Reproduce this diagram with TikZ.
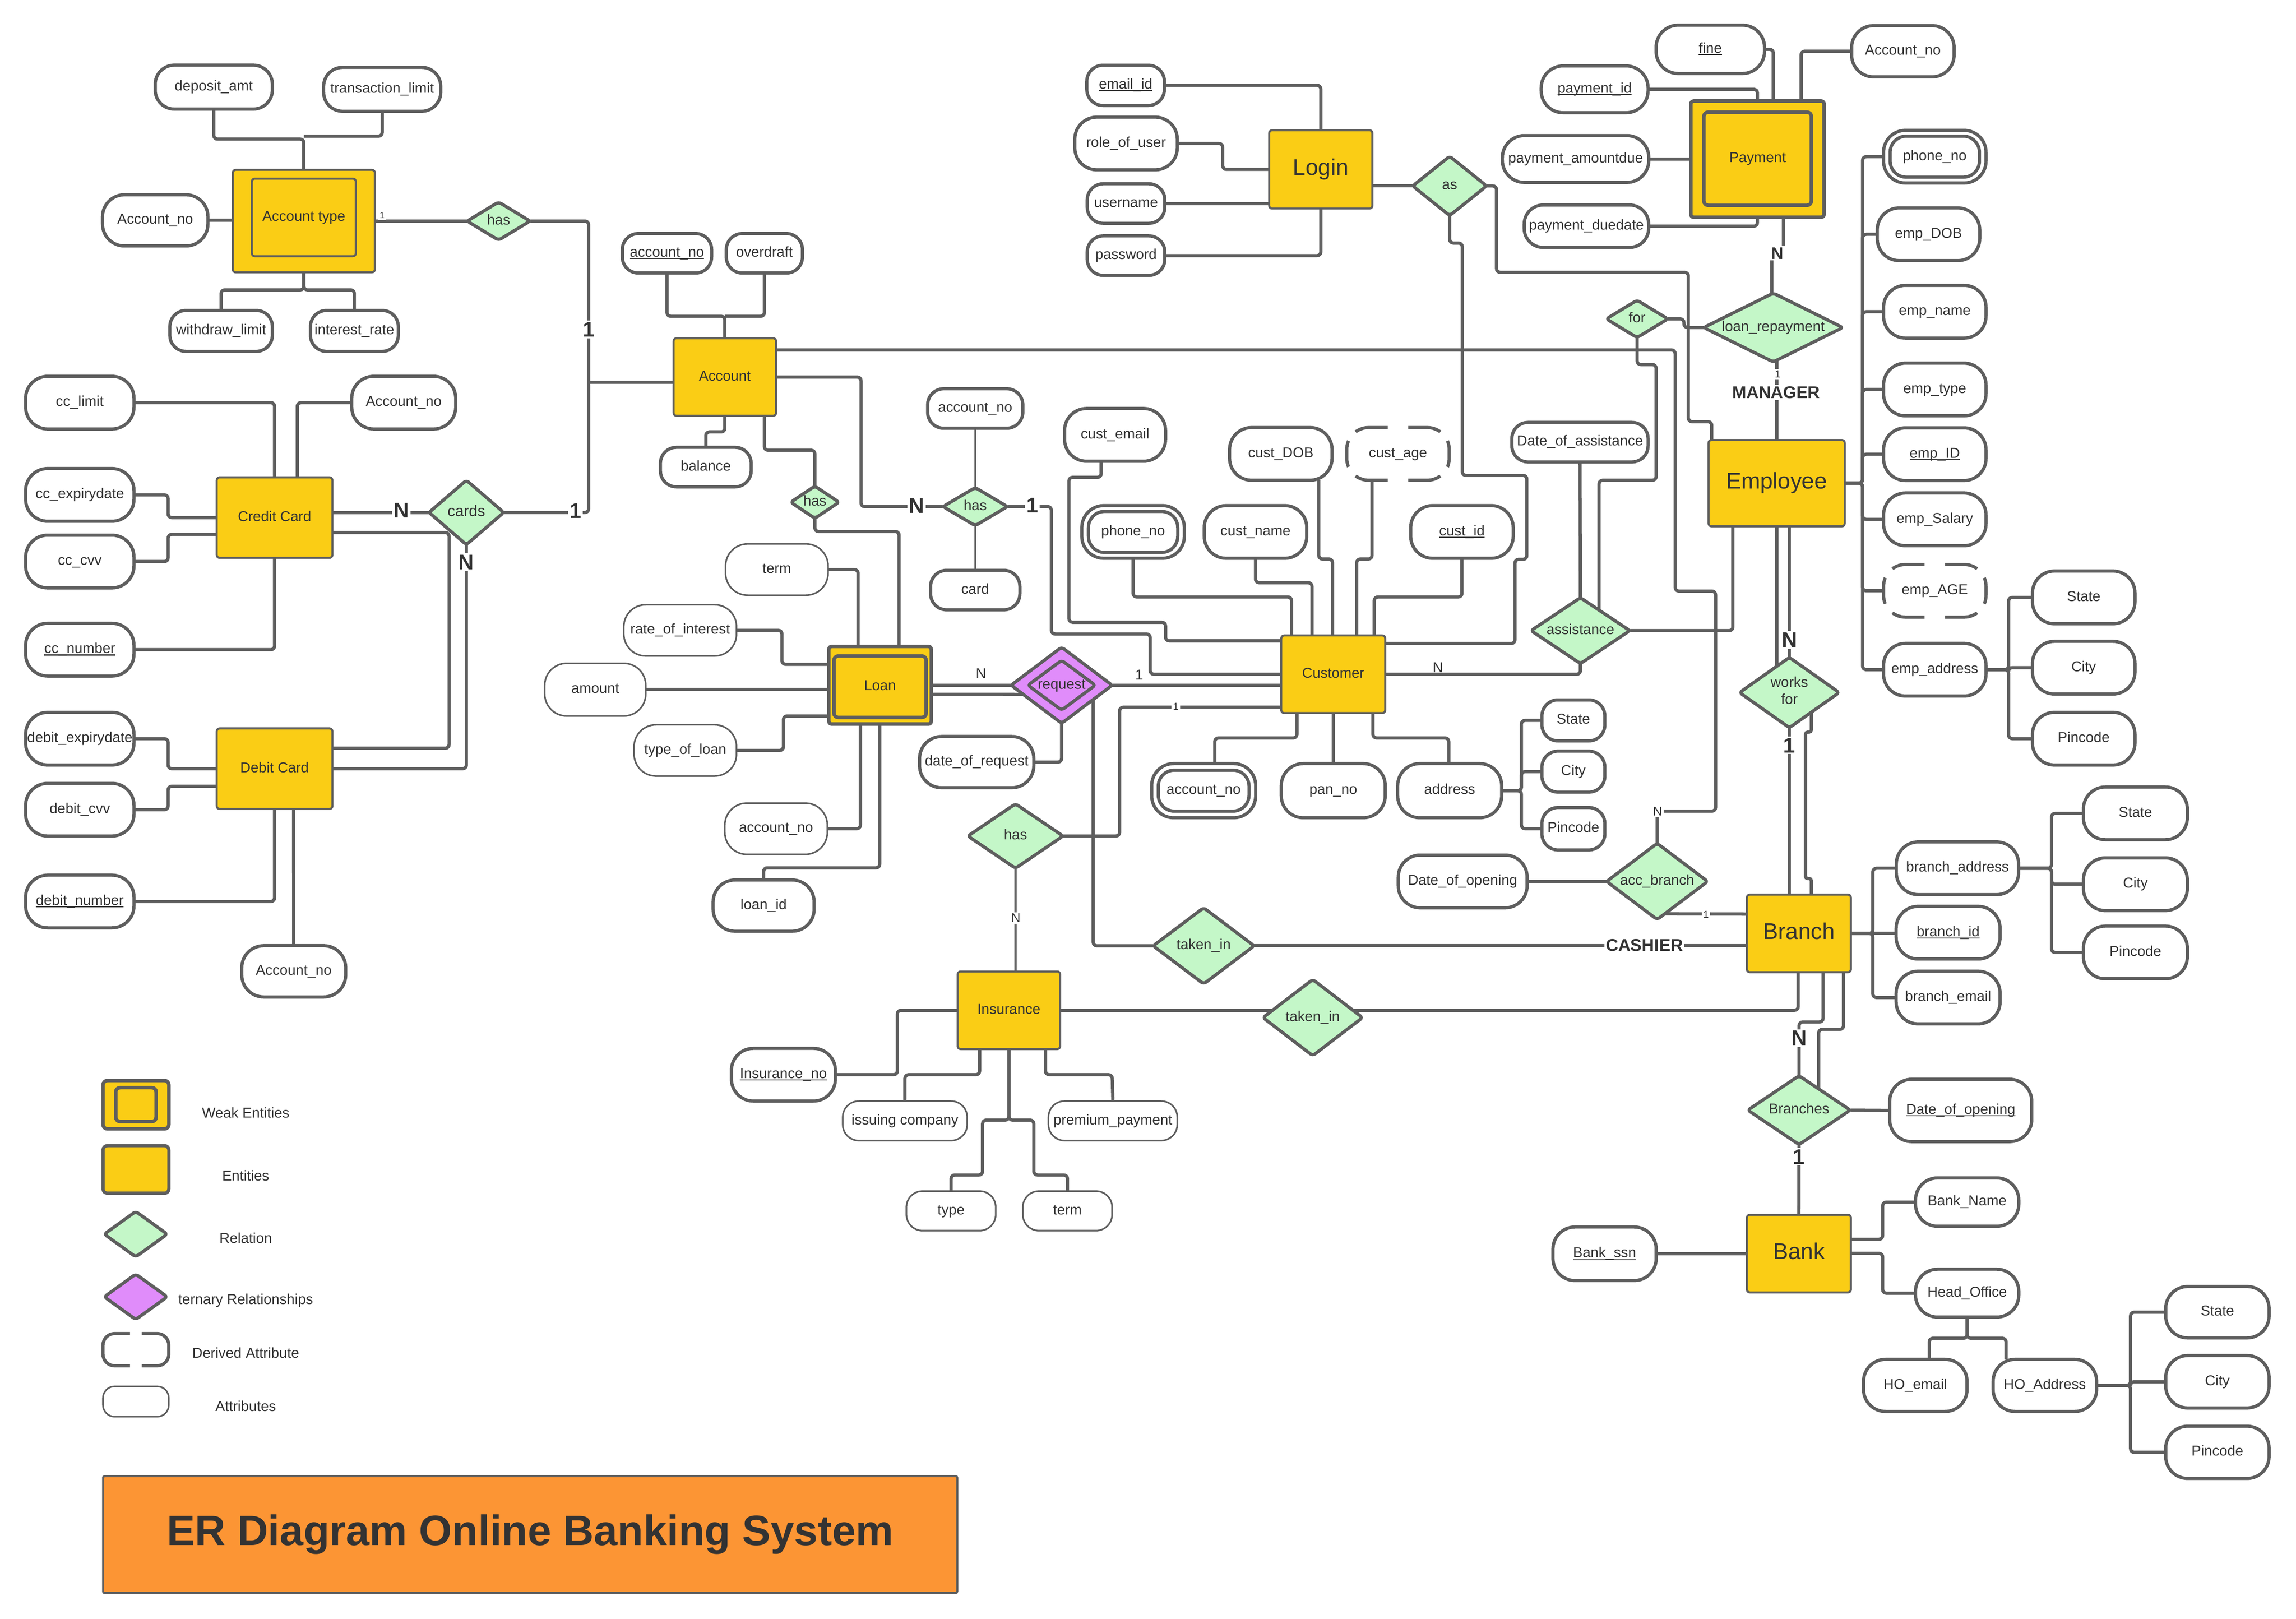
\documentclass[tikz,border=0pt]{standalone}
\usepackage{fontspec}
\setmainfont{Liberation Sans}
\usetikzlibrary{shapes.geometric,calc}
\definecolor{lc}{RGB}{94,94,94}
\definecolor{tc}{RGB}{51,51,51}
\definecolor{ey}{RGB}{250,205,21}
\definecolor{rg}{RGB}{196,247,200}
\definecolor{pu}{RGB}{224,140,250}
\definecolor{org}{RGB}{252,149,52}
\newcommand\myfs[1]{\fontsize{#1}{#1}\selectfont}
\newcommand\cbx[1]{\makebox[0pt]{#1}}
\newsavebox\ulbox
\newcommand\myul[1]{\sbox\ulbox{#1}\rlap{\rule[-1.5pt]{\wd\ulbox}{0.7pt}}\usebox\ulbox}
\pgfdeclarelayer{back}
\pgfdeclarelayer{bg}
\pgfsetlayers{back,bg,main}
\tikzset{
  every node/.append style={text=tc, font=\myfs{9.8}},
  conn/.style={draw=lc, line width=2.2pt, rounded corners=2.5pt},
  thinc/.style={conn, line width=1.1pt},
  tx/.style={text height=7pt, text depth=2pt},
  attr/.style={draw=lc, line width=2.2pt, fill=white, rounded corners=15pt, inner sep=0pt, outer sep=0pt, align=center, tx},
  attrs/.style={attr, rounded corners=11pt},
  tattr/.style={attr, line width=1.1pt},
  tattrs/.style={tattr, rounded corners=11pt},
  sz/.style 2 args={minimum width=#1pt, minimum height=#2pt},
  ent/.style={draw=lc, line width=1.4pt, fill=ey, rounded corners=2pt, inner sep=0pt, outer sep=0pt, tx},
  bigent/.style={font=\myfs{15.5}, text height=11pt, text depth=3.2pt},
  rel/.style={diamond, draw=lc, line width=2.2pt, fill=rg, inner sep=0pt, outer sep=0pt, rounded corners=2pt, tx},
  lab/.style={fill=white, inner sep=1pt},
  big/.style={lab, font=\myfs{14.5}\bfseries},
}
\begin{document}
\begin{tikzpicture}[x=1pt,y=-1pt]
\useasboundingbox (0,0) rectangle (1568,1105.6);
\begin{pgfonlayer}{back}
\fill[white] (0,0) rectangle (1568,1105.6);
\end{pgfonlayer}

% ---------- Account type cluster
\node[attr,sz={80}{30},rounded corners=13pt] (depamt) at (146,59.5) {deposit\_amt};
\node[attr,sz={80}{30},rounded corners=13pt] (translim) at (261,61) {transaction\_limit};
\node[ent,sz={97}{70}] (acctype) at (207.5,151) {};
\node[ent,sz={71}{53}] (acctypein) at (207.5,148.5) {Account type};
\node[attr,sz={72}{35}] (accno1) at (106,150.5) {Account\_no};
\node[attrs,sz={70}{28}] (withlim) at (151,226) {withdraw\_limit};
\node[attrs,sz={60}{28}] (intrate) at (242,226) {interest\_rate};
\node[rel,sz={43}{26}] (hasA) at (340.5,151) {\cbx{has}};

% ---------- cards
\node[ent,sz={79}{55}] (cc) at (187.5,353.5) {Credit Card};
\node[attr,sz={74}{36}] (cclimit) at (54.5,275) {cc\_limit};
\node[attr,sz={71}{36}] (accno2) at (275.7,275) {Account\_no};
\node[attr,sz={74}{36}] (ccexp) at (54.5,338) {cc\_expirydate};
\node[attr,sz={74}{36}] (cccvv) at (54.5,383.5) {cc\_cvv};
\node[attr,sz={74}{36}] (ccnum) at (54.5,443.7) {\myul{cc\_number}};
\node[rel,sz={51}{44}] (cards) at (318.5,350) {\cbx{\myfs{10.5}cards}};
\node[ent,sz={79}{55}] (dc) at (187.5,525) {Debit Card};
\node[attr,sz={74}{36}] (dexp) at (54.5,504.5) {debit\_expirydate};
\node[attr,sz={74}{36}] (dcvv) at (54.5,553) {debit\_cvv};
\node[attr,sz={74}{36}] (dnum) at (54.5,615.7) {\myul{debit\_number}};
\node[attr,sz={71}{35}] (accno3) at (200.6,663.4) {Account\_no};

% ---------- Account
\node[ent,sz={70}{53}] (account) at (495,257.5) {Account};
\node[attrs,sz={61}{27}] (accno4) at (455.5,173) {\myul{account\_no}};
\node[attrs,sz={52}{27}] (overdraft) at (522,173) {overdraft};
\node[attrs,sz={62}{27}] (balance) at (482,319) {balance};
\node[rel,sz={33}{22}] (hasS) at (556.5,343) {\cbx{has}};
\node[rel,sz={44}{26}] (has2) at (666,346) {\cbx{has}};
\node[attrs,sz={65}{27}] (accno5) at (666,279) {account\_no};
\node[attrs,sz={61}{27}] (card) at (666,403) {card};

% ---------- Loan
\node[ent,sz={70}{53},line width=2.4pt] (loan) at (601,468) {};
\node[ent,sz={63}{42},line width=2.4pt,rounded corners=3pt] (loanin) at (601,469) {Loan};
\node[tattr,sz={70}{35}] (term1) at (530.5,389) {term};
\node[tattr,sz={77}{35}] (rate) at (464.5,430.5) {rate\_of\_interest};
\node[tattr,sz={69}{36}] (amount) at (406.5,471) {amount};
\node[tattr,sz={70}{35}] (typeloan) at (468,512.5) {type\_of\_loan};
\node[tattr,sz={70}{35}] (accno6) at (530,566) {account\_no};
\node[attr,sz={69}{35}] (loanid) at (521.5,618.5) {loan\_id};
\node[rel,sz={69}{52},fill=pu] (request) at (725,468) {};
\node[rel,sz={46}{34},fill=pu] (requestin) at (725,468) {\cbx{request}};
\node[attr,sz={78}{35}] (dor) at (667,520.5) {date\_of\_request};

% ---------- Insurance
\node[rel,sz={65}{44}] (hasI) at (693.5,571) {\cbx{has}};
\node[ent,sz={70}{53}] (ins) at (689,690) {Insurance};
\node[attr,sz={71}{36}] (insno) at (535,734) {\myul{Insurance\_no}};
\node[tattrs,sz={85}{27}] (issuing) at (618,765.5) {issuing company};
\node[tattrs,sz={88}{27}] (premium) at (760,765.5) {premium\_payment};
\node[tattrs,sz={61}{27}] (itype) at (649.5,827) {type};
\node[tattrs,sz={61}{27}] (iterm) at (729,827) {term};
\node[rel,sz={69}{52}] (tin1) at (822,646) {\cbx{taken\_in}};
\node[rel,sz={68}{52}] (tin2) at (896.5,695) {\cbx{taken\_in}};

% ---------- Customer
\node[ent,sz={71}{53}] (cust) at (910.5,460.5) {Customer};
\node[attr,sz={69}{36}] (custemail) at (761.5,297) {cust\_email};
\node[attr,sz={70}{36}] (phone1) at (773.8,363.3) {};
\node[attr,sz={61}{28},rounded corners=11pt] (phone1in) at (773.8,363.3) {phone\_no};
\node[attr,sz={70}{36}] (custname) at (857.4,363.3) {cust\_name};
\node[attr,sz={70}{36}] (custdob) at (874.7,310) {cust\_DOB};
\node[attr,sz={70}{36},draw=none] (custage) at (954.7,310) {cust\_age};
\node[attr,sz={70}{36}] (custid) at (998.4,363.3) {\myul{cust\_id}};
\node[attr,sz={71}{37}] (accno7) at (822,540) {};
\node[attr,sz={62}{28},rounded corners=11pt] (accno7in) at (822,540) {account\_no};
\node[attr,sz={71}{37}] (panno) at (910.5,540) {pan\_no};
\node[attr,sz={71}{37}] (address) at (990,540) {address};
\node[attrs,sz={43}{28}] (st1) at (1074.5,492) {State};
\node[attrs,sz={43}{28}] (ct1) at (1074.5,527) {City};
\node[attrs,sz={43}{29}] (pc1) at (1074.5,566) {Pincode};
\node[attrs,sz={93}{27}] (dass) at (1079,302) {Date\_of\_assistance};
\node[rel,sz={67.5}{45}] (assist) at (1079.3,430.7) {\cbx{assistance}};

% ---------- Login
\node[ent,bigent,sz={70.5}{53.5}] (login) at (902,115.7) {Login};
\node[attrs,sz={53}{27.5}] (emailid) at (768.7,58.3) {\myul{email\_id}};
\node[attr,sz={70}{36}] (role) at (769,98) {role\_of\_user};
\node[attrs,sz={53}{27}] (username) at (769,139) {username};
\node[attrs,sz={53}{27}] (password) at (769,174.6) {password};
\node[rel,sz={50.5}{40.5}] (rAs) at (990,127) {\cbx{as}};

% ---------- Payment
\node[ent,sz={91}{79.4},line width=2.4pt] (payment) at (1200.2,108.7) {};
\node[ent,sz={73.4}{63.7},line width=2.4pt,rounded corners=3pt] (paymentin) at (1200.3,108.4) {Payment};
\node[attr,sz={74}{33}] (fine) at (1168,33.7) {\myul{fine}};
\node[attr,sz={70}{35}] (accno8) at (1299.5,35) {Account\_no};
\node[attr,sz={73}{32}] (payid) at (1089,61) {\myul{payment\_id}};
\node[attr,sz={100}{32}] (payamt) at (1076,108.6) {payment\_amountdue};
\node[attr,sz={85}{29},rounded corners=13pt] (paydue) at (1083.4,154.5) {payment\_duedate};
\node[rel,sz={95}{47}] (loanrep) at (1211,223.7) {\cbx{loan\_repayment}};
\node[rel,sz={42}{25.5}] (rFor) at (1118,217.8) {\cbx{for}};

% ---------- Employee
\node[ent,bigent,sz={93}{59}] (emp) at (1213.3,330) {Employee};
\node[attr,sz={70}{36}] (empphone) at (1321.3,107) {};
\node[attr,sz={61}{28},rounded corners=11pt] (empphonein) at (1321.3,107) {phone\_no};
\node[attr,sz={70}{36}] (empdob) at (1317,160) {emp\_DOB};
\node[attr,sz={70}{36}] (empname) at (1321.3,212.9) {emp\_name};
\node[attr,sz={70}{36}] (emptype) at (1321.3,266) {emp\_type};
\node[attr,sz={70}{36}] (empid) at (1321.3,310.2) {\myul{emp\_ID}};
\node[attr,sz={70}{36}] (empsal) at (1321.3,354.7) {emp\_Salary};
\node[attr,sz={70}{36},draw=none] (empage) at (1321.3,403.5) {emp\_AGE};
\node[attr,sz={70}{36}] (empaddr) at (1321.3,457.4) {emp\_address};
\node[attr,sz={70}{36}] (st2) at (1423,408) {State};
\node[attr,sz={70}{36}] (ct2) at (1423,456) {City};
\node[attr,sz={70}{36}] (pc2) at (1423,504.5) {Pincode};
\node[rel,sz={68}{48}] (worksfor) at (1222,473) {\cbx{\begin{tabular}{@{}c@{}}works\\[1.8pt]for\end{tabular}}};

% ---------- Branch / Bank
\node[ent,bigent,sz={71}{53}] (branch) at (1228.5,637.5) {Branch};
\node[rel,sz={69}{52}] (accbranch) at (1131.7,602) {\cbx{acc\_branch}};
\node[attr,sz={88}{36}] (doo1) at (998.9,602) {Date\_of\_opening};
\node[attr,sz={83.5}{36}] (baddr) at (1336.8,593) {branch\_address};
\node[attr,sz={71}{36}] (bid) at (1330.4,637) {\myul{branch\_id}};
\node[attr,sz={71}{36}] (bemail) at (1330.4,681.3) {branch\_email};
\node[attr,sz={71}{36}] (st3) at (1458.3,555.5) {State};
\node[attr,sz={71}{36}] (ct3) at (1458.3,603.9) {City};
\node[attr,sz={71}{36}] (pc3) at (1458.3,650.5) {Pincode};
\node[rel,sz={70}{47}] (branches) at (1228.6,758.2) {\cbx{Branches}};
\node[attr,sz={97}{42.6}] (doo2) at (1339,758.4) {\myul{Date\_of\_opening}};
\node[ent,bigent,sz={71}{53}] (bank) at (1228.5,856.2) {Bank};
\node[attr,sz={70.5}{36.6}] (bankssn) at (1095.8,856.3) {\myul{Bank\_ssn}};
\node[attr,sz={70.5}{33}] (bankname) at (1343.4,821) {Bank\_Name};
\node[attr,sz={70.5}{32.7}] (headoff) at (1343.4,883.2) {Head\_Office};
\node[attr,sz={70.7}{35.6}] (hoemail) at (1308,946.2) {HO\_email};
\node[attr,sz={70.7}{35.6}] (hoaddr) at (1396.5,946.2) {HO\_Address};
\node[attr,sz={70.6}{35.1}] (st4) at (1514.3,896.2) {State};
\node[attr,sz={70.6}{35.8}] (ct4) at (1514.3,943.7) {City};
\node[attr,sz={70.6}{35.7}] (pc4) at (1514.3,991.9) {Pincode};

% ---------- Legend and title
\node[ent,sz={45}{33},line width=2.4pt,rounded corners=3pt] (lgweak) at (92.85,754.5) {};
\node[ent,sz={27.6}{23.2},line width=2.4pt,rounded corners=3pt] (lgweakin) at (92.85,754.4) {};
\node (lgweakt) at (167.8,760) {Weak Entities};
\node[ent,sz={45}{32.5},line width=2.2pt,rounded corners=3pt] (lgent) at (92.85,798.7) {};
\node (lgentt) at (167.8,803) {Entities};
\node[rel,sz={43}{31}] (lgrel) at (92.7,842.9) {};
\node (lgrelt) at (167.8,845.4) {Relation};
\node[rel,sz={43}{31},fill=pu] (lgter) at (92.7,885.7) {};
\node (lgtert) at (167.8,888.3) {ternary Relationships};
\node[inner sep=0pt,outer sep=0pt,sz={45}{22}] (lgder) at (92.8,921.8) {};
\node (lgdert) at (167.8,924) {Derived Attribute};
\node[tattr,rounded corners=8pt,sz={45}{20.7}] (lgatt) at (92.8,957.2) {};
\node (lgattt) at (167.8,960.3) {Attributes};
\node[draw=lc,line width=1.4pt,fill=org,rounded corners=1pt,inner sep=0pt,outer sep=0pt,sz={583.3}{79.8},font=\myfs{29}\bfseries] (title) at (362.05,1048.1) {ER Diagram Online Banking System};

% ---------- derived (dashed) outlines
\draw[draw=lc,line width=2.2pt,rounded corners=15pt,dash pattern=on 22.56pt off 8pt on 18pt off 8pt on 22.56pt off 14pt]
  (961.7,292) -- (989.7,292) -- (989.7,328) -- (919.7,328) -- (919.7,292) -- (947.7,292);
\draw[draw=lc,line width=2.2pt,rounded corners=15pt,dash pattern=on 22.56pt off 8pt on 18pt off 8pt on 22.56pt off 14pt]
  (1328.3,385.5) -- (1356.3,385.5) -- (1356.3,421.5) -- (1286.3,421.5) -- (1286.3,385.5) -- (1314.3,385.5);
\draw[draw=lc,line width=2.2pt,rounded corners=8pt,dash pattern=on 52.13pt off 8pt]
  (96.8,910.8) -- (115.3,910.8) -- (115.3,932.8) -- (70.3,932.8) -- (70.3,910.8) -- (88.8,910.8);

% ---------- connectors
\begin{pgfonlayer}{bg}
\draw[conn] (depamt.south) |- (207.5,95) -- (acctype.north);
\draw[conn] (translim.south) |- (207.5,93);
\draw[conn] (accno1.east) -- (acctype.west |- accno1.east);
\draw[conn] (acctype.south) -- (207.5,198) -| (withlim.north);
\draw[conn] (acctype.south) -- (207.5,198) -| (intrate.north);
\draw[conn] (acctype.east) -- (hasA.west);
\draw[conn] (hasA.east) -| (402,350) -- (cards.east);
\draw[conn] (402,261) -- (account.west |- 0,261);

\draw[conn] (cc.east |- cards.west) -- (cards.west);
\draw[conn] (cc.east |- 0,363.7) -| (306.7,511) -- (dc.east |- 0,511);
\draw[conn] (cards.south) |- (dc.east);
\draw[conn] (cclimit.east) -| (cc.north);
\draw[conn] (accno2.west) -| (203,0 |- cc.north);
\draw[conn] (ccexp.east) -- (114.8,338) |- (cc.west);
\draw[conn] (cccvv.east) -- (114.8,383.5) |- (cc.west |- 0,365);
\draw[conn] (ccnum.east) -| (cc.south);
\draw[conn] (dexp.east) -- (114.8,504.5) |- (dc.west);
\draw[conn] (dcvv.east) -- (114.8,553) |- (dc.west |- 0,537);
\draw[conn] (dnum.east) -| (dc.south);
\draw[conn] (200.5,0 |- dc.south) -- (accno3.north);

\draw[conn] (accno4.south) |- (495,216) -- (account.north);
\draw[conn] (overdraft.south) |- (495,216);
\draw[conn] (account.south) -- (495,295) -| (balance.north);
\draw[conn] (522,0 |- account.south) -- (522,307.5) -| (hasS.north);
\draw[conn] (hasS.south) |- (614,363) -- (614,0 |- loan.north);
\draw[conn] (account.east) -| (588,346) -- (has2.west);
\draw[thinc] (accno5.south) -- (has2.north);
\draw[thinc] (has2.south) -- (card.north);
\draw[conn] (has2.east) -- (718,346) -- (718,433) -- (785.5,433) |- (cust.west);
\draw[conn] (752,0 |- custemail.south) -- (752,326) -- (730,326) -- (730,425) -- (796,425) |- (cust.west |- 0,437.7);
\draw[conn] (request.east) -- (cust.west |- request.east);
\draw[conn] (hasI.east) -| (764.6,483) -- (cust.west |- 0,483);

\draw[conn] (loan.east) -- (request.west);
\draw[conn] (loan.east |- 0,474.2) -- ($(request.west)!0.24!(request.south)$);
\draw[conn] (request.south) |- (dor.east);
\draw[conn] ($(request.east)!0.375!(request.south)$) |- (tin1.west);
\draw[conn] (term1.east) -| (586,0 |- loan.north);
\draw[conn] (rate.east) -- (534,430.5) |- (loan.west |- 0,453.7);
\draw[conn] (amount.east) -- (loan.west |- amount.east);
\draw[conn] (typeloan.east) -- (535,512.5) |- (loan.west |- 0,489);
\draw[conn] (accno6.east) -| (587.6,0 |- loan.south);
\draw[conn] (600.8,0 |- loan.south) |- (521.5,592.7) -- (loanid.north);

\draw[conn,line width=1.6pt] (hasI.south) -- (hasI.south |- ins.north);
\draw[conn] (ins.west) -- (612.8,690) |- (insno.east);
\draw[conn] (669,0 |- ins.south) |- (618,734) -- (issuing.north);
\draw[conn] (714,0 |- ins.south) |- (759.5,734) -- (premium.north);
\draw[conn] (ins.south) -- (689,765) -- (671,765) |- (649.5,802.5) -- (itype.north);
\draw[conn] (ins.south) -- (689,765) -- (706,765) |- (729,802.5) -- (iterm.north);
\draw[conn] (ins.east) -- (1228,690) -- (1228,0 |- branch.south);
\draw[conn] (tin1.east) -- (branch.west |- tin1.east);

\draw[conn] (phone1.south) |- (882,407.7) -- (882,0 |- cust.north);
\draw[conn] (custname.south) |- (896,398) -- (896,0 |- cust.north);
\draw[conn] (900.6,0 |- custdob.south) -- (900.6,381.8) -| (910,0 |- cust.north);
\draw[conn] (937,0 |- custage.south) -- (937,381.8) -| (926.5,0 |- cust.north);
\draw[conn] (custid.south) |- (938.5,407.7) -- (938.5,0 |- cust.north);
\draw[conn] (885.7,0 |- cust.south) -- (885.7,504) -| (829.6,0 |- accno7.north);
\draw[conn] (cust.south) -- (panno.north);
\draw[conn] (937.6,0 |- cust.south) -- (937.6,504) -| (989.4,0 |- address.north);
\foreach \nn in {st1,ct1,pc1} \draw[conn] (address.east) -- (1039,0 |- address.east) |- (\nn.west);

\draw[conn] (dass.south) -- (assist.north);
\draw[conn] (assist.east) -| (1183.4,0 |- emp.south);
\draw[conn] (assist.south) |- (cust.east);
\draw[conn] (rFor.south) -- (1118,249) -- (1131,249) -- (1131,328) -- (1092,328) -- (1092,422);
\draw[conn] (rFor.east) -- (1150,217.8) |- (loanrep.west);
\draw[conn] (login.east |- rAs.west) -- (rAs.west);
\draw[conn] (rAs.east) -- (1022,127) -- (1022,186) -- (1153,186) -- (1153,288) -| (1169,0 |- emp.north);
\draw[conn] (rAs.south) -- (990,166) -- (998.6,166) -- (998.6,324.7) -- (1042.7,324.7) -- (1042.7,382) -- (1034.6,382) |- (cust.east |- 0,439.5);
\draw[conn] (accbranch.north) -- (1131.7,554) -- (1171.6,554) -- (1171.6,403.7) -- (1144,403.7) -- (1144,239) -- (account.east |- 0,239);
\draw[conn] (doo1.east) -- (accbranch.west);
\draw[conn] ($(accbranch.east)!0.85!(accbranch.south)$) -- (branch.west |- 0,624.3);

\draw[conn] (emp.north) -- (emp.north |- 0,244);
\draw[conn] (1218,0 |- payment.south) -- (1218,172) -- (1210,172) -- (1210,204);
\foreach \nn in {empphone,empdob,empname,emptype,empid,empsal,empage,empaddr} \draw[conn] (emp.east) -- (1272,0 |- emp.east) |- (\nn.west);
\foreach \nn in {st2,ct2,pc2} \draw[conn] (empaddr.east) -- (1371.7,0 |- empaddr.east) |- (\nn.west);
\draw[conn] (emp.south) -- (1213.3,462);
\draw[conn] (1222,0 |- emp.south) -- (worksfor.north);
\draw[conn] (worksfor.south) -- (1222,0 |- branch.north);
\draw[conn,rounded corners=1.5pt] (1237,0 |- branch.north) -- (1237,600) -- (1233,600) -- (1233,500) -- (1237,500) -- (1237,482);

\draw[conn] (branch.east) -- (1279,0 |- branch.east) |- (baddr.west);
\draw[conn] (branch.east) -- (bid.west |- branch.east);
\draw[conn] (branch.east) -- (1279,0 |- branch.east) |- (bemail.west);
\foreach \nn in {st3,ct3,pc3} \draw[conn] (baddr.east) -- (1401,0 |- baddr.east) |- (\nn.west);
\draw[conn] (1245,0 |- branch.south) -- (1245,698) -- (1228.6,698) -- (branches.north);
\draw[conn] (1259,0 |- branch.south) -- (1259,703) -- (1242,703) -- (1242,748);
\draw[conn] (branches.east) -- (doo2.west);
\draw[conn] (branches.south) -- (bank.north);
\draw[conn] (bankssn.east) -- (bank.west |- bankssn.east);
\draw[conn] (bank.east |- 0,846.4) -- (1285.7,846.4) |- (bankname.west);
\draw[conn] (bank.east |- 0,856) -- (1285.7,856) |- (headoff.west);
\draw[conn] (headoff.south) -- (1343.4,914) -| (1317.5,0 |- hoemail.north);
\draw[conn] (headoff.south) -- (1343.4,914) -| (1370,0 |- hoaddr.north);
\foreach \nn in {st4,ct4,pc4} \draw[conn] (hoaddr.east) -- (1455,0 |- hoaddr.east) |- (\nn.west);

\draw[conn] (fine.east) -| (1211,0 |- payment.north);
\draw[conn] (accno8.west) -| (1230,0 |- payment.north);
\draw[conn] (payid.east) -| (payment.north);
\draw[conn] (payamt.east) -- (payment.west |- payamt.east);
\draw[conn] (paydue.east) -| (payment.south);

\draw[conn] (emailid.east) -| (login.north);
\draw[conn] (role.east) -- (835,98) |- (login.west);
\draw[conn] (username.east) -- (login.west |- username.east);
\draw[conn] (password.east) -| (login.south);
\end{pgfonlayer}

% ---------- cardinality labels
\node[big] (l1) at (402,225) {1};
\node[big] (l2) at (274,348.5) {N};
\node[big] (l3) at (393,349) {1};
\node[big] (l4) at (318.5,384) {N};
\node[big] (l5) at (626,345.5) {N};
\node[big] (l6) at (705,345) {1};
\node (l7) at (670,460) {N};
\node (l8) at (778,461) {1};
\node[lab,font=\myfs{7}] (l9) at (803,482.5) {1};
\node (l10) at (982,456) {N};
\node[lab,font=\myfs{11.5}\bfseries] (l11) at (1214,173) {N};
\node[lab,font=\myfs{7}] (l12) at (1214,255.5) {1};
\node[lab,font=\myfs{11.6}\bfseries] (l13) at (1213,268) {MANAGER};
\node[big] (l14) at (1222,437) {N};
\node[big] (l15) at (1222,509) {1};
\node[lab,font=\myfs{8.7}] (l16) at (1132,554) {N};
\node[lab,font=\myfs{7}] (l17) at (1165,624.5) {1};
\node[lab,font=\myfs{11.7}\bfseries] (l18) at (1123,645.5) {CASHIER};
\node[lab,font=\myfs{8.7}] (l19) at (693.7,627) {N};
\node[big] (l20) at (1228.6,709) {N};
\node[big] (l21) at (1228.5,790) {1};
\node[lab,font=\myfs{6}] (l22) at (261,147) {1};
\end{tikzpicture}
\end{document}
